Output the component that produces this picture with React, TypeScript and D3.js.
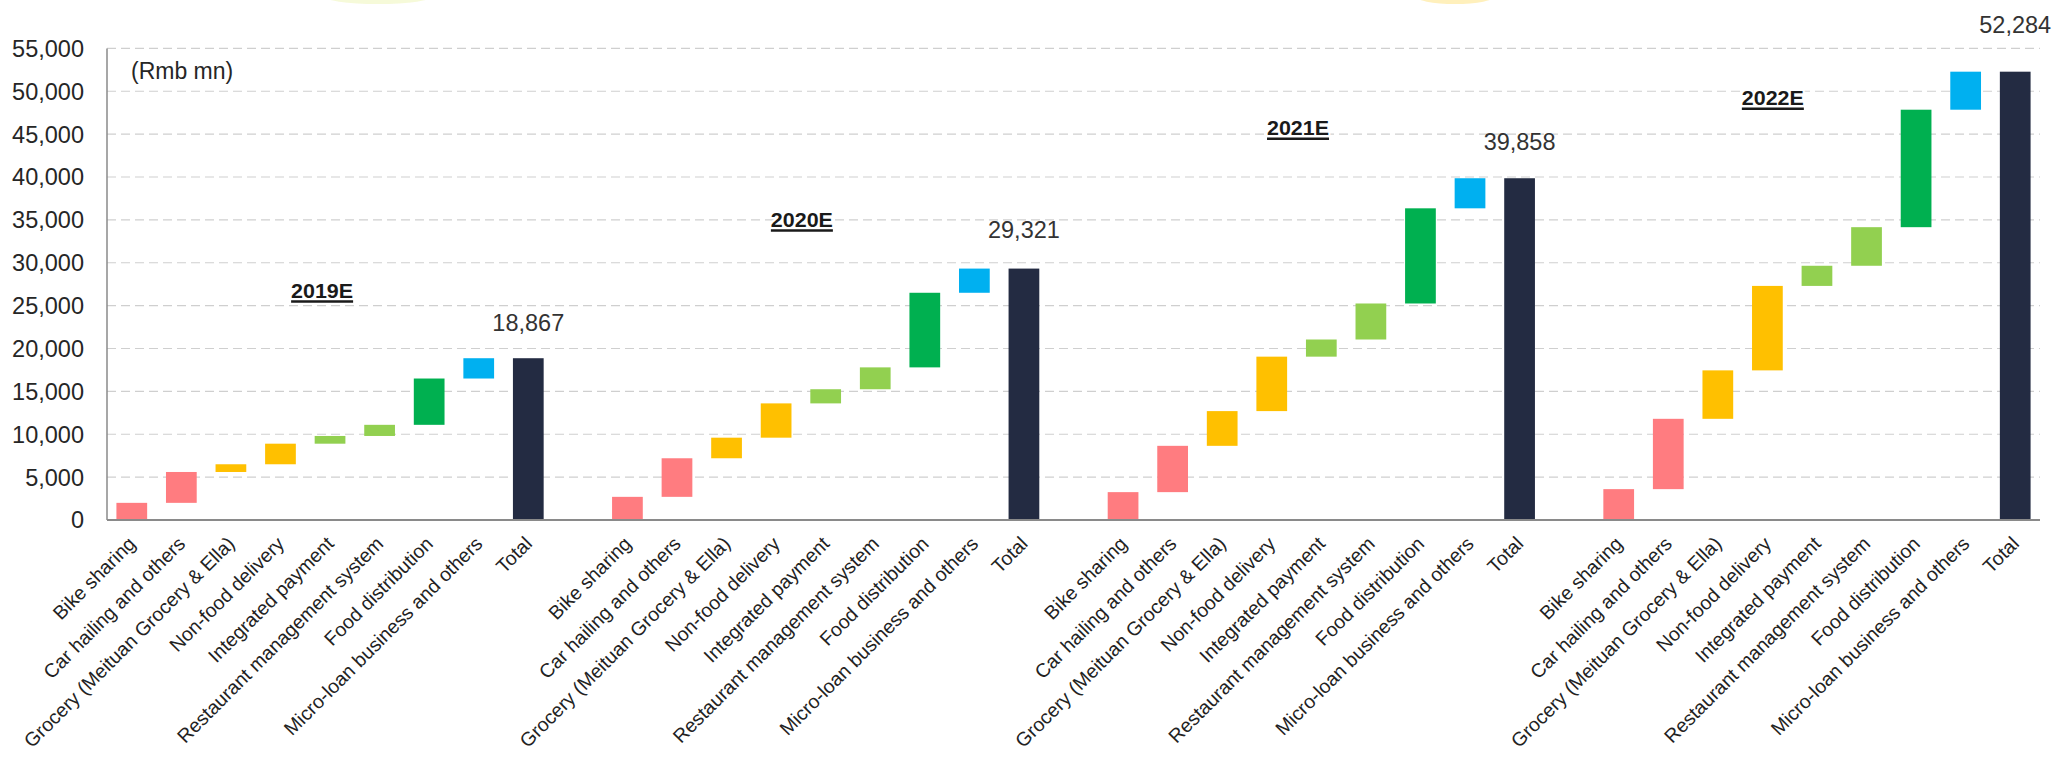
import React from "react";
import * as d3 from "d3";

const categories = [
  "Bike sharing",
  "Car hailing and others",
  "Grocery (Meituan Grocery & Ella)",
  "Non-food delivery",
  "Integrated payment",
  "Restaurant management system",
  "Food distribution",
  "Micro-loan business and others",
];
const totalLabel = "Total";
const years = ["2019E", "2020E", "2021E", "2022E"];

// increments per category (Rmb mn)
const inc2019 = [2000, 3600, 900, 2400, 900, 1300, 5400, 2367];
const inc2020 = [2700, 4500, 2400, 4000, 1650, 2550, 8700, 2821];
const inc2021 = [3250, 5400, 4050, 6350, 2000, 4200, 11100, 3508];
const inc2022 = [3600, 8200, 5650, 9850, 2350, 4500, 13700, 4434];
const totals = [18867, 29321, 39858, 52284];

const yTicks = [0, 5000, 10000, 15000, 20000, 25000, 30000, 35000, 40000, 45000, 50000, 55000];
const unitLabel = "(Rmb mn)";

const categoryColors = ["#FF7C80", "#FF7C80", "#FFC000", "#FFC000", "#92D050", "#92D050", "#00B050", "#00B0F0"];
const totalColor = "#232B42";

// annotation layout (not data): year-title slot offset / value level, total-label lift in px
const yearTitleLayout = [
  { slot: 3.84, level: 25880 },
  { slot: 13.52, level: 34160 },
  { slot: 23.53, level: 44880 },
  { slot: 33.11, level: 48380 },
];
const totalLabelLift = [27, 31, 28, 39];

const W = 2056;
const H = 757;
const FONT = "'Liberation Sans', Arial, sans-serif";

export default function App() {
  const incs = [inc2019, inc2020, inc2021, inc2022];
  const slots: string[] = [];
  years.forEach((_, g) => {
    categories.forEach((_, i) => slots.push(`${g}-${i}`));
    slots.push(`${g}-T`);
    if (g < years.length - 1) slots.push(`${g}-gap`);
  });

  const left = 107;
  const right = 2040;
  const x = d3.scaleBand<string>().domain(slots).range([left, right]).paddingInner(0.38).paddingOuter(0.19);
  const y = d3.scaleLinear().domain([0, 55000]).range([520, 48.4]);
  const bw = x.bandwidth();
  const step = x.step();
  const fmt = d3.format(",");

  const bars: { key: string; y0: number; y1: number; color: string }[] = [];
  const labels: { key: string; text: string }[] = [];
  years.forEach((_, g) => {
    let cum = 0;
    incs[g].forEach((v, i) => {
      bars.push({ key: `${g}-${i}`, y0: cum, y1: cum + v, color: categoryColors[i] });
      labels.push({ key: `${g}-${i}`, text: categories[i] });
      cum += v;
    });
    bars.push({ key: `${g}-T`, y0: 0, y1: totals[g], color: totalColor });
    labels.push({ key: `${g}-T`, text: totalLabel });
  });

  const cx = (k: string) => (x(k) as number) + bw / 2;
  const firstCenter = cx(slots[0]);

  return (
    <svg
      width={W}
      height={H}
      viewBox={`0 0 ${W} ${H}`}
      style={{ position: "absolute", left: 0, top: 0, background: "#fff", fontFamily: FONT }}
    >
      <rect x={0} y={0} width={W} height={H} fill="#fff" />
      {/* faint cut-off artifacts at top */}
      <ellipse cx={378} cy={-4} rx={55} ry={8} fill="#f0f6c0" opacity={0.6} />
      <ellipse cx={1455} cy={-4} rx={40} ry={8} fill="#ffe690" opacity={0.6} />

      {/* gridlines */}
      {yTicks.filter((t) => t > 0).map((t) => (
        <line key={t} x1={left} x2={right} y1={y(t)} y2={y(t)} stroke="#cfcfcf" strokeWidth={1.2} strokeDasharray="9,5" />
      ))}

      {/* y axis labels */}
      {yTicks.map((t) => (
        <text key={t} x={84} y={y(t)} dy="0.36em" textAnchor="end" fontSize={23.5} fill="#262626">
          {fmt(t)}
        </text>
      ))}

      <text x={131} y={y(55000) + 31} fontSize={23} fill="#262626">{unitLabel}</text>

      {/* bars */}
      {bars.map((b) => (
        <rect key={b.key} x={x(b.key)} y={y(b.y1)} width={bw} height={y(b.y0) - y(b.y1)} fill={b.color} />
      ))}

      {/* axes */}
      <line x1={left} x2={left} y1={y(55000)} y2={y(0)} stroke="#8a8a8a" strokeWidth={1.5} />
      <line x1={left} x2={right} y1={y(0)} y2={y(0)} stroke="#8a8a8a" strokeWidth={2} />

      {/* total labels */}
      {totals.map((t, g) => (
        <text key={g} x={cx(`${g}-T`)} y={y(t) - totalLabelLift[g]} textAnchor="middle" fontSize={23.5} fill="#333">
          {fmt(t)}
        </text>
      ))}

      {/* year titles */}
      {years.map((yr, g) => {
        const tx = firstCenter + yearTitleLayout[g].slot * step;
        const ty = y(yearTitleLayout[g].level);
        const tw = 62;
        return (
          <g key={yr}>
            <text
              x={tx}
              y={ty}
              textAnchor="middle"
              fontSize={20}
              fontWeight="bold"
              fill="#1a1a1a"
              stroke="#fff"
              strokeWidth={4}
              paintOrder="stroke"
              textLength={tw}
              lengthAdjust="spacingAndGlyphs"
            >
              {yr}
            </text>
            <line x1={tx - tw / 2} x2={tx + tw / 2} y1={ty + 3.5} y2={ty + 3.5} stroke="#1a1a1a" strokeWidth={2.5} />
          </g>
        );
      })}

      {/* category labels */}
      {labels.map((l) => (
        <text
          key={l.key}
          transform={`translate(${cx(l.key) + 5},${545}) rotate(-45)`}
          textAnchor="end"
          fontSize={19.5}
          fill="#222"
        >
          {l.text}
        </text>
      ))}
    </svg>
  );
}
